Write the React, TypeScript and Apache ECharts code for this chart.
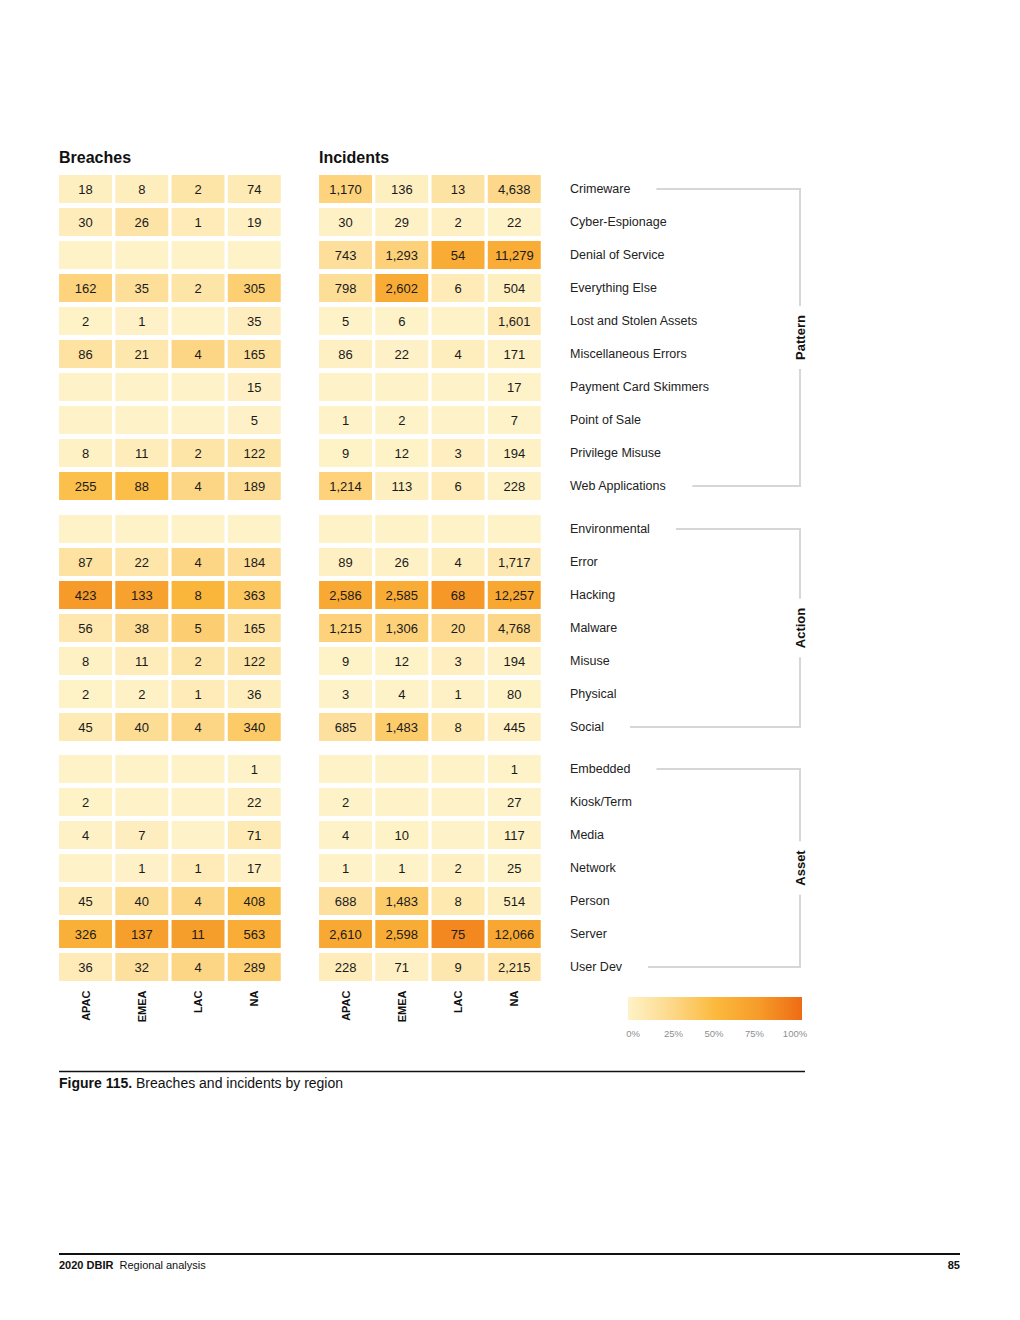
import React, { useEffect, useRef } from 'react';
import * as echarts from 'echarts';

// ---------- data ----------
const regions = ['APAC', 'EMEA', 'LAC', 'NA'];

const patternLabels = [
  'Crimeware', 'Cyber-Espionage', 'Denial of Service', 'Everything Else', 'Lost and Stolen Assets',
  'Miscellaneous Errors', 'Payment Card Skimmers', 'Point of Sale', 'Privilege Misuse', 'Web Applications',
];
const actionLabels = ['Environmental', 'Error', 'Hacking', 'Malware', 'Misuse', 'Physical', 'Social'];
const assetLabels = ['Embedded', 'Kiosk/Term', 'Media', 'Network', 'Person', 'Server', 'User Dev'];

// rows follow the label order, columns follow regions (APAC, EMEA, LAC, NA); null = blank cell
const breachesPattern: (number | null)[][] = [
  [18, 8, 2, 74],
  [30, 26, 1, 19],
  [null, null, null, null],
  [162, 35, 2, 305],
  [2, 1, null, 35],
  [86, 21, 4, 165],
  [null, null, null, 15],
  [null, null, null, 5],
  [8, 11, 2, 122],
  [255, 88, 4, 189],
];
const incidentsPattern: (number | null)[][] = [
  [1170, 136, 13, 4638],
  [30, 29, 2, 22],
  [743, 1293, 54, 11279],
  [798, 2602, 6, 504],
  [5, 6, null, 1601],
  [86, 22, 4, 171],
  [null, null, null, 17],
  [1, 2, null, 7],
  [9, 12, 3, 194],
  [1214, 113, 6, 228],
];
const breachesAction: (number | null)[][] = [
  [null, null, null, null],
  [87, 22, 4, 184],
  [423, 133, 8, 363],
  [56, 38, 5, 165],
  [8, 11, 2, 122],
  [2, 2, 1, 36],
  [45, 40, 4, 340],
];
const incidentsAction: (number | null)[][] = [
  [null, null, null, null],
  [89, 26, 4, 1717],
  [2586, 2585, 68, 12257],
  [1215, 1306, 20, 4768],
  [9, 12, 3, 194],
  [3, 4, 1, 80],
  [685, 1483, 8, 445],
];
const breachesAsset: (number | null)[][] = [
  [null, null, null, 1],
  [2, null, null, 22],
  [4, 7, null, 71],
  [null, 1, 1, 17],
  [45, 40, 4, 408],
  [326, 137, 11, 563],
  [36, 32, 4, 289],
];
const incidentsAsset: (number | null)[][] = [
  [null, null, null, 1],
  [2, null, null, 27],
  [4, 10, null, 117],
  [1, 1, 2, 25],
  [688, 1483, 8, 514],
  [2610, 2598, 75, 12066],
  [228, 71, 9, 2215],
];

const groupNames = ['Pattern', 'Action', 'Asset'];
const panelTitles = ['Breaches', 'Incidents'];

// ---------- styling / layout ----------
const FONT = "'Liberation Sans', Arial, Helvetica, sans-serif";
const COLORS = ['#FEF2C8', '#FDD88A', '#FBBA3E', '#F69C2A', '#EE6B14'];
const PANEL_LEFT = [57.4, 317.4];
const PANEL_W = 225;
const GROUP_TOP = [172.5, 512.5, 752.5];
const ROW_H = 33;
const LABEL_X = 570;
const BRACKET_X = 800;

function colTotals(m: (number | null)[][]) {
  return regions.map((_, c) => m.reduce((s, r) => s + (r[c] ?? 0), 0));
}

export default function App() {
  const ref = useRef<HTMLDivElement>(null);

  useEffect(() => {
    document.body.style.margin = '0';
    if (!ref.current) return;
    const chart = echarts.init(ref.current, null, { renderer: 'svg' });

    const groups = [
      { labels: patternLabels, panels: [breachesPattern, incidentsPattern] },
      { labels: actionLabels, panels: [breachesAction, incidentsAction] },
      { labels: assetLabels, panels: [breachesAsset, incidentsAsset] },
    ];
    const totals = [colTotals(breachesPattern), colTotals(incidentsPattern)];

    const grids: any[] = [];
    const xAxes: any[] = [];
    const yAxes: any[] = [];
    const series: any[] = [];

    groups.forEach((g, gi) => {
      [0, 1].forEach((p) => {
        const idx = grids.length;
        grids.push({
          left: PANEL_LEFT[p],
          top: GROUP_TOP[gi],
          width: PANEL_W,
          height: g.labels.length * ROW_H,
        });
        xAxes.push({
          type: 'category',
          gridIndex: idx,
          data: regions,
          axisLine: { show: false },
          axisTick: { show: false },
          splitLine: { show: false },
          axisLabel: {
            show: gi === 2,
            rotate: 90,
            margin: 7,
            fontFamily: FONT,
            fontSize: 11,
            fontWeight: 'bold',
            color: '#111',
          },
        });
        yAxes.push({
          type: 'category',
          gridIndex: idx,
          data: g.labels,
          inverse: true,
          position: 'right',
          axisLine: { show: false },
          axisTick: { show: false },
          splitLine: { show: false },
          axisLabel: {
            show: p === 1,
            align: 'left',
            margin: LABEL_X - (PANEL_LEFT[1] + PANEL_W),
            fontFamily: FONT,
            fontSize: 12.5,
            color: '#222',
          },
        });
        const matrix = g.panels[p];
        const items: any[] = [];
        const texts: string[] = [];
        matrix.forEach((row, r) => {
          row.forEach((v, c) => {
            const pct = v == null ? 0 : (v / totals[p][c]) * 100;
            items.push([c, r, Math.min(100, pct)]);
            texts.push(v == null ? '' : v.toLocaleString('en-US'));
          });
        });
        series.push({
          type: 'custom',
          xAxisIndex: idx,
          yAxisIndex: idx,
          dimensions: ['x', 'y', 'pct'],
          encode: { x: 0, y: 1 },
          data: items,
          renderItem: (params: any, api: any) => {
            const c = api.coord([api.value(0), api.value(1)]);
            const s = api.size([1, 1]);
            const w = s[0] - 3.3;
            const h = s[1] - 5;
            return {
              type: 'group',
              children: [
                {
                  type: 'rect',
                  shape: { x: c[0] - w / 2, y: c[1] - h / 2, width: w, height: h },
                  style: { fill: api.visual('color') },
                },
                {
                  type: 'text',
                  x: c[0],
                  y: c[1] + 0.5,
                  style: {
                    text: texts[params.dataIndex],
                    align: 'center',
                    verticalAlign: 'middle',
                    fontFamily: FONT,
                    fontSize: 13,
                    fill: '#1a1a1a',
                  },
                },
              ],
            };
          },
        });
      });
    });

    // legend axis grid
    const legIdx = grids.length;
    grids.push({ left: 633, width: 162, top: 1018, height: 2 });
    xAxes.push({
      type: 'value',
      gridIndex: legIdx,
      min: 0,
      max: 100,
      interval: 25,
      axisLine: { show: false },
      axisTick: { show: false },
      splitLine: { show: false },
      axisLabel: {
        formatter: '{value}%',
        margin: 8,
        fontFamily: FONT,
        fontSize: 9.5,
        color: '#8f8f8f',
        showMinLabel: true,
        showMaxLabel: true,
      },
    });
    yAxes.push({ type: 'value', gridIndex: legIdx, show: false });
    series.push({ type: 'line', xAxisIndex: legIdx, yAxisIndex: legIdx, data: [], silent: true });

    // measure label widths for brackets
    const cv = document.createElement('canvas').getContext('2d')!;
    cv.font = `12.5px ${FONT}`;
    const tw = (t: string) => cv.measureText(t).width;
    const bcv = document.createElement('canvas').getContext('2d')!;
    bcv.font = `bold 13px ${FONT}`;

    const graphics: any[] = [];
    panelTitles.forEach((t, p) => {
      graphics.push({
        type: 'text',
        x: PANEL_LEFT[p] + 1.6,
        y: 157,
        style: { text: t, fontFamily: FONT, fontSize: 16, fontWeight: 'bold', fill: '#111', verticalAlign: 'middle' },
      });
    });

    const lineStyle = { stroke: '#d6d6d6', lineWidth: 2 };
    groups.forEach((g, gi) => {
      const n = g.labels.length;
      const yTop = GROUP_TOP[gi] + ROW_H / 2;
      const yBot = GROUP_TOP[gi] + (n - 0.5) * ROW_H;
      const x1 = LABEL_X + tw(g.labels[0]) + 26;
      const x2 = LABEL_X + tw(g.labels[n - 1]) + 26;
      const mid = (yTop + yBot) / 2;
      const half = bcv.measureText(groupNames[gi]).width / 2 + 9;
      graphics.push(
        { type: 'line', shape: { x1, y1: yTop, x2: BRACKET_X, y2: yTop }, style: lineStyle },
        { type: 'line', shape: { x1: x2, y1: yBot, x2: BRACKET_X, y2: yBot }, style: lineStyle },
        { type: 'line', shape: { x1: BRACKET_X, y1: yTop - 1, x2: BRACKET_X, y2: mid - half }, style: lineStyle },
        { type: 'line', shape: { x1: BRACKET_X, y1: mid + half, x2: BRACKET_X, y2: yBot + 1 }, style: lineStyle },
        {
          type: 'text',
          x: BRACKET_X,
          y: mid,
          rotation: Math.PI / 2,
          style: {
            text: groupNames[gi],
            align: 'center',
            verticalAlign: 'middle',
            fontFamily: FONT,
            fontSize: 13,
            fontWeight: 'bold',
            fill: '#111',
          },
        },
      );
    });

    // legend gradient bar
    graphics.push({
      type: 'rect',
      shape: { x: 628, y: 997, width: 174, height: 23 },
      style: {
        fill: new echarts.graphic.LinearGradient(
          0, 0, 1, 0,
          COLORS.map((c, i) => ({ offset: i / (COLORS.length - 1), color: c })),
        ),
      },
    });

    // caption + footer
    graphics.push(
      { type: 'line', shape: { x1: 59, y1: 1071.5, x2: 805, y2: 1071.5 }, style: { stroke: '#111', lineWidth: 1.5 } },
      {
        type: 'text',
        x: 59,
        y: 1083,
        style: {
          text: '{b|Figure 115.} Breaches and incidents by region',
          rich: { b: { fontWeight: 'bold', fontFamily: FONT, fontSize: 14, fill: '#111' } },
          fontFamily: FONT,
          fontSize: 14,
          fill: '#111',
          verticalAlign: 'middle',
        },
      },
      { type: 'line', shape: { x1: 59, y1: 1254, x2: 960, y2: 1254 }, style: { stroke: '#111', lineWidth: 2 } },
      {
        type: 'text',
        x: 59,
        y: 1265,
        style: {
          text: '{b|2020 DBIR}  Regional analysis',
          rich: { b: { fontWeight: 'bold', fontFamily: FONT, fontSize: 11, fill: '#111' } },
          fontFamily: FONT,
          fontSize: 11,
          fill: '#111',
          verticalAlign: 'middle',
        },
      },
      {
        type: 'text',
        x: 960,
        y: 1265,
        style: {
          text: '85',
          align: 'right',
          verticalAlign: 'middle',
          fontFamily: FONT,
          fontSize: 11,
          fontWeight: 'bold',
          fill: '#111',
        },
      },
    );

    chart.setOption({
      animation: false,
      backgroundColor: '#ffffff',
      textStyle: { fontFamily: FONT },
      grid: grids,
      xAxis: xAxes,
      yAxis: yAxes,
      visualMap: {
        type: 'continuous',
        show: false,
        min: 0,
        max: 100,
        dimension: 2,
        seriesIndex: series.map((_, i) => i).filter((i) => i < 6),
        inRange: { color: COLORS },
      },
      series,
      graphic: graphics,
    });

    return () => chart.dispose();
  }, []);

  return <div ref={ref} style={{ width: 1020, height: 1320 }} />;
}
